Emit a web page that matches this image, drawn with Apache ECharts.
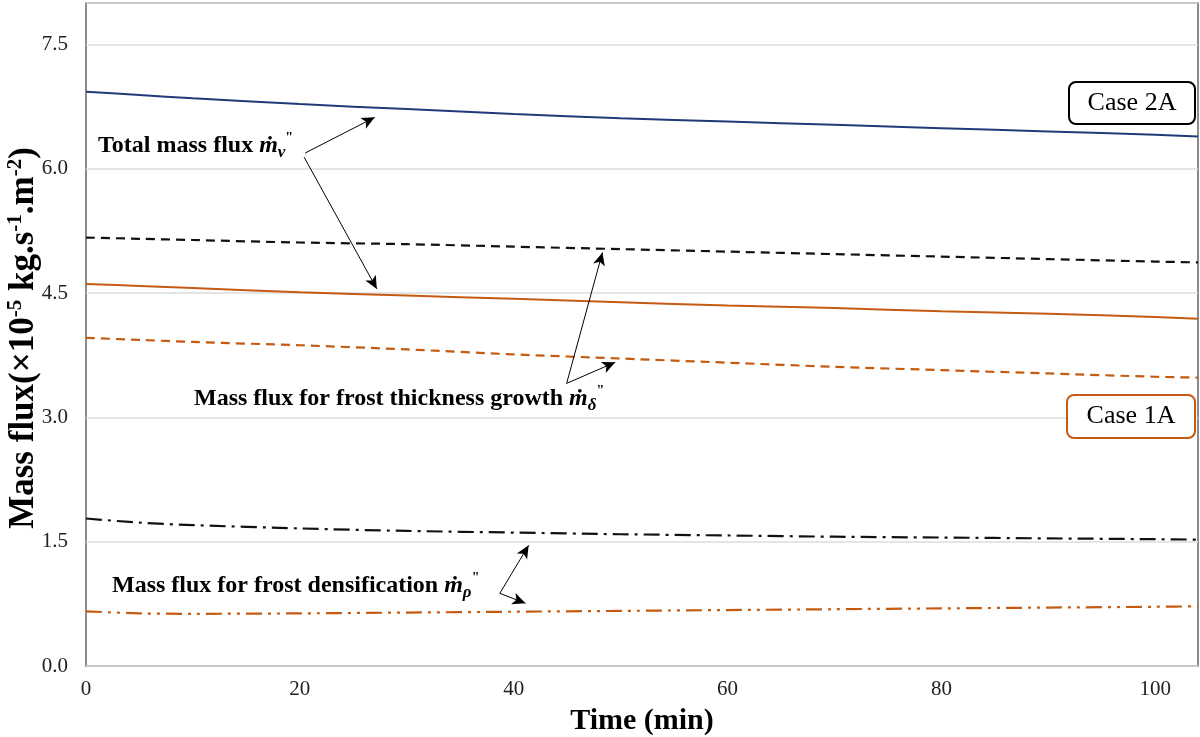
<!DOCTYPE html>
<html>
<head>
<meta charset="utf-8">
<script src="https://cdn.jsdelivr.net/npm/echarts@6/dist/echarts.min.js"></script>
<style>html,body{margin:0;padding:0;background:#fff}#c{width:1200px;height:737px}</style>
</head>
<body>
<div id="c"></div>
<script>
// Data (time in min, mass flux in 1e-5 kg/s/m2)
const time = [0, 5, 10, 20, 30, 40, 50, 60, 70, 80, 90, 100, 104];
const case2A_total = [6.93, 6.89, 6.85, 6.78, 6.72, 6.66, 6.61, 6.57, 6.53, 6.49, 6.45, 6.41, 6.39];
const case2A_growth = [5.17, 5.155, 5.14, 5.11, 5.09, 5.06, 5.03, 5.00, 4.97, 4.94, 4.91, 4.88, 4.87];
const case1A_total = [4.61, 4.585, 4.56, 4.51, 4.47, 4.43, 4.39, 4.35, 4.32, 4.28, 4.25, 4.21, 4.19];
const case1A_growth = [3.96, 3.935, 3.91, 3.87, 3.82, 3.76, 3.71, 3.66, 3.61, 3.57, 3.53, 3.49, 3.48];
const case2A_dens = [1.78, 1.73, 1.70, 1.66, 1.63, 1.61, 1.59, 1.575, 1.56, 1.55, 1.54, 1.53, 1.525];
const case1A_dens = [0.66, 0.635, 0.63, 0.635, 0.645, 0.655, 0.665, 0.675, 0.685, 0.695, 0.705, 0.715, 0.72];
const yTicks = [0, 1.5, 3.0, 4.5, 6.0, 7.5];
const xTicks = [0, 20, 40, 60, 80, 100];

// annotation arrows in data coordinates: [tail, head]
const arrows = [
  [[20.5, 6.19], [27.0, 6.62]],
  [[20.4, 6.14], [27.2, 4.55]],
  [[44.95, 3.41], [48.3, 4.99]],
  [[44.95, 3.41], [49.5, 3.665]],
  [[38.7, 0.877], [41.4, 1.456]],
  [[38.7, 0.877], [41.1, 0.757]]
];

const NAVY = '#1f3a78', ORANGE = '#c55a11', BLACK = '#111';
const SERIF = '"Liberation Serif", "Times New Roman", serif';

function pairs(vals) { return time.map((t, i) => [t, vals[i]]); }

function mk(name, vals, color, type, width) {
  return {
    name, type: 'line', data: pairs(vals), smooth: 0.3, showSymbol: false,
    lineStyle: { color, width, type }, z: 3
  };
}

const series = [
  mk('Case 2A total', case2A_total, NAVY, 'solid', 2),
  mk('Case 2A growth', case2A_growth, BLACK, [9, 6], 2.2),
  mk('Case 1A total', case1A_total, ORANGE, 'solid', 2),
  mk('Case 1A growth', case1A_growth, ORANGE, [9, 6], 2.2),
  mk('Case 2A densification', case2A_dens, BLACK, [16, 6, 3, 6], 2.2),
  mk('Case 1A densification', case1A_dens, ORANGE, [16, 6, 3, 6, 3, 6], 2.2),
  {
    name: 'arrows', type: 'line', data: [], silent: true,
    markLine: {
      silent: true, symbol: ['none', 'arrow'], symbolSize: [9, 13], animation: false,
      label: { show: false },
      lineStyle: { color: '#000', width: 1, type: 'solid' },
      data: arrows.map(a => [{ coord: a[0] }, { coord: a[1] }])
    }
  }
];

const annRich = {
  b: { fontFamily: SERIF, fontWeight: 'bold', fontSize: 24, lineHeight: 30, color: '#000' },
  m: { fontFamily: SERIF, fontWeight: 'bold', fontStyle: 'italic', fontSize: 24, lineHeight: 30, color: '#000' },
  sub: { fontFamily: SERIF, fontWeight: 'bold', fontStyle: 'italic', fontSize: 17, lineHeight: 18, verticalAlign: 'bottom', color: '#000' },
  sup: { fontFamily: SERIF, fontWeight: 'bold', fontSize: 14, lineHeight: 16, verticalAlign: 'top', color: '#000' }
};

function ann(x, y, label, sym) {
  return {
    type: 'text', left: x, top: y, z: 100,
    style: { text: '{b|' + label + ' }{m|ṁ}{sub|' + sym + '}{sup|"}', rich: annRich }
  };
}

function box(x, y, w, h, color, label) {
  return {
    type: 'group', left: x, top: y, z: 100,
    children: [
      { type: 'rect', z: 100, shape: { x: 0, y: 0, width: w, height: h, r: 7 },
        style: { fill: '#fff', stroke: color, lineWidth: 2 } },
      { type: 'text', z: 101, x: w / 2, y: h / 2,
        style: { text: label, font: '26px ' + SERIF, fill: '#000', align: 'center', verticalAlign: 'middle' } }
    ]
  };
}

const yTitle = {
  type: 'text', x: 24, y: 338, rotation: Math.PI / 2, z: 100,
  style: {
    text: '{t|Mass flux(×10}{s|-5}{t| kg.s}{s|-1}{t|.m}{s|-2}{t|)}',
    align: 'center', verticalAlign: 'middle',
    rich: {
      t: { fontFamily: SERIF, fontWeight: 'bold', fontSize: 35, lineHeight: 38, color: '#000' },
      s: { fontFamily: SERIF, fontWeight: 'bold', fontSize: 21, lineHeight: 22, verticalAlign: 'top', color: '#000' }
    }
  }
};

const chart = echarts.init(document.getElementById('c'), null, { renderer: 'canvas' });
chart.setOption({
  animation: false,
  backgroundColor: '#fff',
  grid: { left: 86, right: 2, top: 3, bottom: 71, outerBoundsMode: 'none', containLabel: false,
          show: true, borderColor: '#666', borderWidth: 1.5, backgroundColor: 'transparent' },
  xAxis: {
    type: 'value', min: 0, max: 104, interval: 20,
    name: 'Time (min)', nameLocation: 'middle', nameGap: 40,
    nameTextStyle: { fontFamily: SERIF, fontWeight: 'bold', fontSize: 30, color: '#000' },
    axisLine: { show: false }, axisTick: { show: false }, splitLine: { show: false },
    axisLabel: {
      fontFamily: SERIF, fontSize: 21, color: '#222', margin: 13, showMaxLabel: false,
      formatter: v => xTicks.includes(v) ? String(v) : ''
    }
  },
  yAxis: {
    type: 'value', min: 0, max: 8, interval: 1.5,
    axisLine: { show: false }, axisTick: { show: false },
    splitLine: { lineStyle: { color: '#dcdcdc', width: 1.5 } },
    axisLabel: {
      fontFamily: SERIF, fontSize: 21, color: '#222', margin: 18, showMaxLabel: false,
      formatter: v => yTicks.some(t => Math.abs(t - v) < 1e-9) ? v.toFixed(1) : ''
    }
  },
  series,
  graphic: [
    yTitle,
    ann(98, 131, 'Total mass flux', 'v'),
    ann(194, 384, 'Mass flux for frost thickness growth', 'δ'),
    ann(112, 571, 'Mass flux for frost densification', 'ρ'),
    box(1068, 81, 126, 42, '#000', 'Case 2A'),
    box(1066, 394, 128, 43, ORANGE, 'Case 1A')
  ]
});
</script>
</body>
</html>
